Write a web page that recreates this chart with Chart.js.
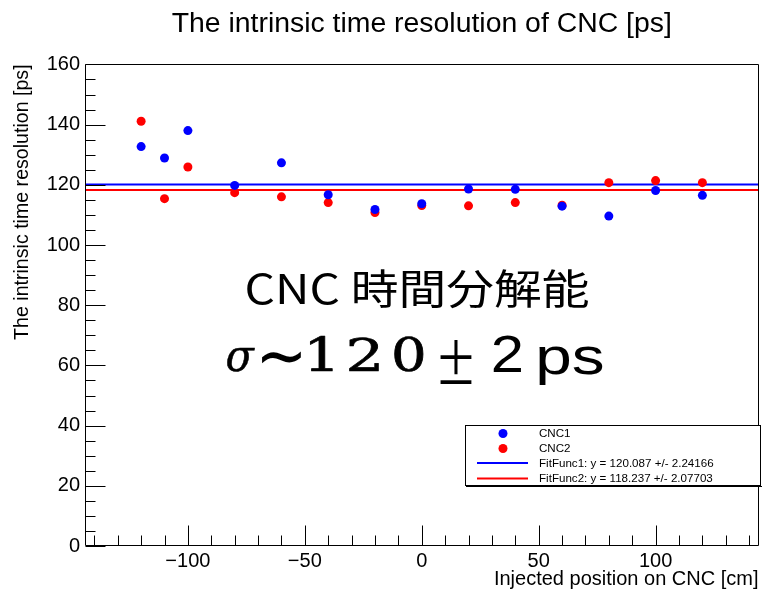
<!DOCTYPE html>
<html><head><meta charset="utf-8">
<script src="https://cdn.jsdelivr.net/npm/chart.js@4/dist/chart.umd.min.js"></script>
<style>html,body{margin:0;padding:0;background:#fff}#wrap{width:763px;height:589px}</style>
</head><body><div id="wrap"><canvas id="c" width="763" height="589"></canvas></div>
<script>
// ---- data ----
const positions = [-120, -110, -100, -80, -60, -40, -20, 0, 20, 40, 60, 80, 100, 120];
const cnc1 = [132.7, 128.9, 138.0, 119.8, 127.3, 116.7, 111.8, 113.7, 118.6, 118.5, 112.9, 109.6, 118.1, 116.5];
const cnc2 = [141.1, 115.4, 125.9, 117.4, 116.0, 114.1, 110.8, 113.1, 113.0, 114.1, 113.2, 120.7, 121.4, 120.7];
const fitRange = [-144, 144];
const fit1Value = 120.087;
const fit2Value = 118.237;
const seriesLabels = ['CNC1', 'CNC2', 'FitFunc1: y = 120.087 +/- 2.24166', 'FitFunc2: y = 118.237 +/- 2.07703'];
const xTickValues = [-100, -50, 0, 50, 100];
const yTickValues = [0, 20, 40, 60, 80, 100, 120, 140, 160];
const titleText = 'The intrinsic time resolution of CNC [ps]';
const xTitle = 'Injected position on CNC [cm]';
const yTitle = 'The intrinsic time resolution [ps]';
const noteLine1 = 'CNC 時間分解能';

const SANS = "'Liberation Sans', Arial, sans-serif";
const BLUE = '#0000ff', RED = '#ff0000';

const pts = (xs, ys) => xs.map((x, i) => ({x, y: ys[i]}));
const flat = (v) => fitRange.map(x => ({x, y: v}));
const fmt = v => (v < 0 ? '\u2212' + Math.abs(v) : String(v));

// ---- plugins ----
const frameTicks = {
  id: 'frameTicks',
  afterDatasetsDraw(chart) {
    const {ctx, chartArea: a, scales: {x, y}} = chart;
    ctx.save();
    ctx.strokeStyle = '#000'; ctx.lineWidth = 1;
    ctx.beginPath();
    const L = Math.round(a.left) + 0.5, R = Math.round(a.right) - 0.5;
    const T = Math.round(a.top) + 0.5, B = Math.round(a.bottom) - 0.5;
    ctx.rect(L, T, R - L, B - T);
    for (let v = Math.ceil(x.min / 10) * 10; v <= x.max; v += 10) {
      const px = Math.round(x.getPixelForValue(v)) + 0.5;
      const len = (v % 50 === 0) ? 20 : 10;
      ctx.moveTo(px, B); ctx.lineTo(px, B - len);
    }
    for (let v = Math.ceil(y.min / 5) * 5; v <= y.max; v += 5) {
      const py = Math.round(y.getPixelForValue(v)) + 0.5;
      const len = (v % 20 === 0) ? 20 : 10;
      ctx.moveTo(L, py); ctx.lineTo(L + len, py);
    }
    ctx.stroke();
    ctx.restore();
  }
};

const legendBox = {
  id: 'legendBox',
  afterDraw(chart) {
    const {ctx} = chart;
    const ds = chart.data.datasets;
    ctx.save();
    const bx = 465, by = 425, bw = 296, bh = 61;
    ctx.fillStyle = '#fff';
    ctx.fillRect(bx, by, bw, bh);
    ctx.strokeStyle = '#000'; ctx.lineWidth = 1;
    ctx.strokeRect(bx + 0.5, by + 0.5, bw - 1, bh - 1);
    ctx.fillStyle = '#000';
    ctx.fillRect(bx + 1, by + bh, bw, 1);
    const rows = [433.5, 448.5, 463, 478.5];
    ctx.font = '11.6px ' + SANS;
    ctx.textBaseline = 'middle';
    ds.forEach((d, i) => {
      const ry = rows[i];
      if (d.showLine) {
        ctx.strokeStyle = d.borderColor; ctx.lineWidth = 2;
        ctx.beginPath(); ctx.moveTo(477, ry); ctx.lineTo(528, ry); ctx.stroke();
      } else {
        ctx.fillStyle = d.backgroundColor;
        ctx.beginPath(); ctx.arc(503, ry, 4.5, 0, Math.PI * 2); ctx.fill();
      }
      ctx.fillStyle = '#000';
      ctx.fillText(d.label, 539, ry + 0.5);
    });
    ctx.restore();
  }
};

function fitText(ctx, text, font, box, lw) {
  lw = lw || 0;
  const b = [box[0] + lw / 2, box[1] - lw / 2, box[2] + lw / 2, box[3] - lw / 2];
  ctx.save();
  ctx.font = font;
  ctx.textAlign = 'left';
  ctx.textBaseline = 'alphabetic';
  const m = ctx.measureText(text);
  const inkW = m.actualBoundingBoxLeft + m.actualBoundingBoxRight;
  const inkH = m.actualBoundingBoxAscent + m.actualBoundingBoxDescent;
  const sx = (b[1] - b[0]) / inkW;
  const sy = (b[3] - b[2]) / inkH;
  ctx.translate(b[0], b[2]);
  ctx.scale(sx, sy);
  ctx.fillStyle = '#000';
  ctx.fillText(text, m.actualBoundingBoxLeft, m.actualBoundingBoxAscent);
  if (lw > 0) {
    ctx.strokeStyle = '#000';
    ctx.lineJoin = 'round';
    ctx.lineWidth = lw / ((sx + sy) / 2);
    ctx.strokeText(text, m.actualBoundingBoxLeft, m.actualBoundingBoxAscent);
  }
  ctx.restore();
}

const note = {
  id: 'note',
  afterDraw(chart) {
    const ctx = chart.ctx;
    fitText(ctx, noteLine1, "44px 'Noto Sans CJK JP'", [246.7, 588.3, 268.3, 308.3]);
    const serif = "48px 'DejaVu Serif'";
    fitText(ctx, '\u03C3', "italic 48px 'DejaVu Serif'", [226, 255, 347, 372], 0.5);
    fitText(ctx, '\u223C', "48px 'DejaVu Sans'", [262, 302, 352, 365]);
    fitText(ctx, '1', serif, [309, 333, 335, 371], 0.8);
    fitText(ctx, '2', serif, [349, 379, 335, 371], 0.8);
    fitText(ctx, '0', serif, [394, 424, 335, 372], 0.8);
    fitText(ctx, '\u00B1', "200 80px Inter", [440, 471.5, 339, 384]);
    fitText(ctx, '2', "52px " + SANS, [493, 521.7, 335, 372]);
    fitText(ctx, 'ps', "52px " + SANS, [539, 603.3, 346, 385]);
  }
};

// ---- chart ----
new Chart(document.getElementById('c'), {
  type: 'scatter',
  data: {
    datasets: [
      {label: seriesLabels[0], data: pts(positions, cnc1), backgroundColor: BLUE, borderWidth: 0, pointRadius: 4.5, showLine: false, order: 1},
      {label: seriesLabels[1], data: pts(positions, cnc2), backgroundColor: RED, borderWidth: 0, pointRadius: 4.5, showLine: false, order: 1},
      {label: seriesLabels[2], data: flat(fit1Value), borderColor: BLUE, borderWidth: 2, pointRadius: 0, showLine: true, order: 2},
      {label: seriesLabels[3], data: flat(fit2Value), borderColor: RED, borderWidth: 2, pointRadius: 0, showLine: true, order: 2}
    ]
  },
  options: {
    responsive: false,
    animation: false,
    devicePixelRatio: 1,
    layout: {padding: {left: 0, right: 3, top: 0, bottom: 0}},
    plugins: {
      legend: {display: false},
      tooltip: {enabled: false},
      title: {
        display: true, text: titleText, color: '#000', fullSize: false,
        font: {family: SANS, size: 28.4, weight: 'normal', lineHeight: 1},
        padding: {top: 10, bottom: 26}
      }
    },
    scales: {
      x: {
        type: 'linear', min: fitRange[0], max: fitRange[1],
        afterBuildTicks: s => { s.ticks = xTickValues.map(v => ({value: v})); },
        afterFit: s => { s.height = 43; },
        grid: {display: false, drawTicks: false},
        border: {display: false},
        ticks: {color: '#000', padding: 3, font: {family: SANS, size: 20}, callback: v => fmt(v), maxRotation: 0, autoSkip: false},
        title: {display: true, text: xTitle, align: 'end', color: '#000', font: {family: SANS, size: 20, lineHeight: 1}, padding: 0}
      },
      y: {
        type: 'linear', min: 0, max: 160,
        afterBuildTicks: s => { s.ticks = yTickValues.map(v => ({value: v})); },
        afterFit: s => { s.width = 85; },
        grid: {display: false, drawTicks: false},
        border: {display: false},
        ticks: {color: '#000', padding: 5, font: {family: SANS, size: 20}, callback: v => fmt(v), autoSkip: false},
        title: {display: true, text: yTitle, align: 'end', color: '#000', font: {family: SANS, size: 19.6, lineHeight: 1}, padding: {top: 13, bottom: 0}}
      }
    }
  },
  plugins: [frameTicks, legendBox, note]
});
</script>
</body></html>
